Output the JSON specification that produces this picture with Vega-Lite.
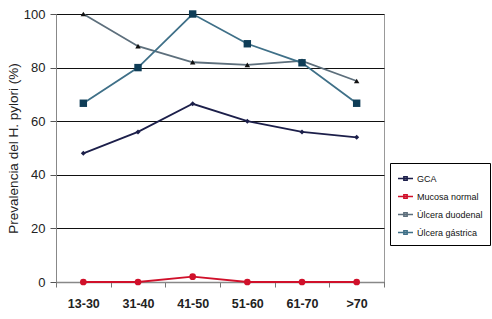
{
  "$schema": "https://vega.github.io/schema/vega-lite/v6.json",
  "width": 328,
  "height": 268,
  "autosize": {"type": "none"},
  "padding": {"left": 56, "top": 14, "right": 108, "bottom": 37},
  "background": "white",
  "config": {
    "font": "Liberation Sans",
    "view": {"stroke": "#999999", "strokeWidth": 1},
    "axis": {"labelFont": "Liberation Sans", "titleFont": "Liberation Sans"},
    "legend": {
      "title": null, "orient": "none", "legendX": 334, "legendY": 149,
      "strokeColor": "#000000", "fillColor": "white", "padding": 7,
      "labelFontSize": 9, "labelColor": "#111111", "rowPadding": 4,
      "labelFont": "Liberation Sans", "labelOffset": 3
    }
  },
  "data": {
    "values": [
      {"grupo": "13-30", "serie": "GCA", "valor": 48},
      {"grupo": "31-40", "serie": "GCA", "valor": 56},
      {"grupo": "41-50", "serie": "GCA", "valor": 66.5},
      {"grupo": "51-60", "serie": "GCA", "valor": 60},
      {"grupo": "61-70", "serie": "GCA", "valor": 56},
      {"grupo": ">70", "serie": "GCA", "valor": 54},
      {"grupo": "13-30", "serie": "Mucosa normal", "valor": 0},
      {"grupo": "31-40", "serie": "Mucosa normal", "valor": 0},
      {"grupo": "41-50", "serie": "Mucosa normal", "valor": 2},
      {"grupo": "51-60", "serie": "Mucosa normal", "valor": 0},
      {"grupo": "61-70", "serie": "Mucosa normal", "valor": 0},
      {"grupo": ">70", "serie": "Mucosa normal", "valor": 0},
      {"grupo": "13-30", "serie": "Úlcera duodenal", "valor": 100},
      {"grupo": "31-40", "serie": "Úlcera duodenal", "valor": 88},
      {"grupo": "41-50", "serie": "Úlcera duodenal", "valor": 82},
      {"grupo": "51-60", "serie": "Úlcera duodenal", "valor": 81},
      {"grupo": "61-70", "serie": "Úlcera duodenal", "valor": 82.5},
      {"grupo": ">70", "serie": "Úlcera duodenal", "valor": 75},
      {"grupo": "13-30", "serie": "Úlcera gástrica", "valor": 66.7},
      {"grupo": "31-40", "serie": "Úlcera gástrica", "valor": 80},
      {"grupo": "41-50", "serie": "Úlcera gástrica", "valor": 100},
      {"grupo": "51-60", "serie": "Úlcera gástrica", "valor": 88.9},
      {"grupo": "61-70", "serie": "Úlcera gástrica", "valor": 81.8},
      {"grupo": ">70", "serie": "Úlcera gástrica", "valor": 66.7}
    ]
  },
  "encoding": {
    "x": {
      "field": "grupo", "type": "ordinal",
      "sort": ["13-30", "31-40", "41-50", "51-60", "61-70", ">70"],
      "scale": {"paddingInner": 0, "paddingOuter": 0},
      "axis": {
        "title": null, "labelAngle": 0, "tickBand": "extent",
        "labelFontSize": 12.5, "labelFontWeight": "bold", "labelColor": "#222222",
        "labelPadding": 10, "tickSize": 5, "tickColor": "#777777",
        "domainColor": "#888888", "domainWidth": 1.5, "grid": false
      }
    },
    "y": {
      "field": "valor", "type": "quantitative",
      "scale": {"domain": [0, 100], "nice": false},
      "axis": {
        "title": "Prevalencia del H. pylori (%)", "values": [0, 20, 40, 60, 80, 100],
        "titleFontSize": 13.5, "titleFontWeight": "normal", "titleColor": "#222222", "titlePadding": 3,
        "labelFontSize": 13, "labelColor": "#222222", "labelPadding": 5,
        "tickSize": 6, "tickColor": "#555555", "domainColor": "#888888",
        "gridColor": "#111111", "gridWidth": 1.2, "gridOpacity": 1
      }
    }
  },
  "layer": [
    {
      "mark": {"type": "line", "strokeWidth": 1.8},
      "encoding": {
        "stroke": {
          "field": "serie", "type": "nominal",
          "scale": {
            "domain": ["GCA", "Mucosa normal", "Úlcera duodenal", "Úlcera gástrica"],
            "range": ["#1c1f4a", "#d0102a", "#5d6f7c", "#3f7088"]
          },
          "legend": {
            "symbolType": "M-1,0L1,0M-0.22,-0.22L0.22,-0.22L0.22,0.22L-0.22,0.22Z",
            "symbolStrokeWidth": 1.5,
            "symbolSize": 225
          }
        }
      }
    },
    {
      "transform": [{"filter": "datum.serie === 'GCA'"}],
      "mark": {"type": "point", "filled": true, "opacity": 1, "shape": "diamond", "size": 25, "color": "#1c1f4a"}
    },
    {
      "transform": [{"filter": "datum.serie === 'Mucosa normal'"}],
      "mark": {"type": "point", "filled": true, "opacity": 1, "shape": "circle", "size": 45, "color": "#d0102a"}
    },
    {
      "transform": [{"filter": "datum.serie === 'Úlcera duodenal'"}],
      "mark": {"type": "point", "filled": true, "opacity": 1, "shape": "triangle-up", "size": 30, "color": "#111111"}
    },
    {
      "transform": [{"filter": "datum.serie === 'Úlcera gástrica'"}],
      "mark": {"type": "point", "filled": true, "opacity": 1, "shape": "square", "size": 55, "color": "#0f3d57"}
    }
  ]
}
